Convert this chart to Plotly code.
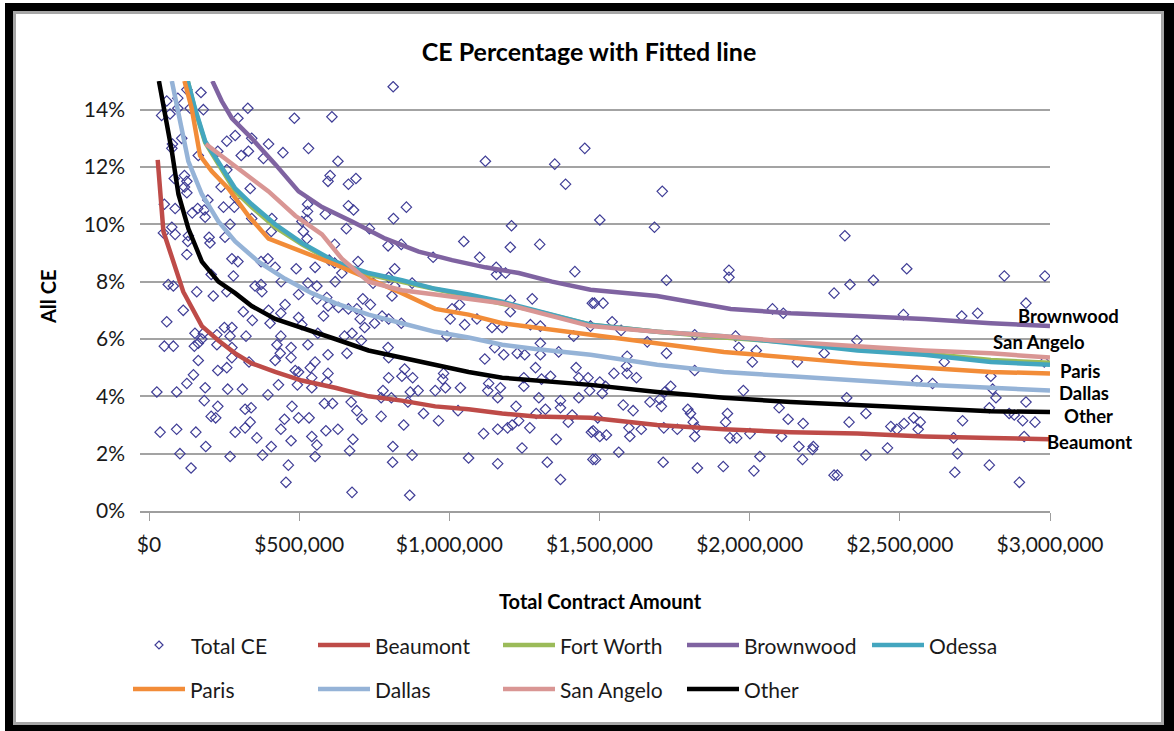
import plotly.graph_objects as go

# ---- scatter: total contract amount (thousands of $) vs. CE percentage ----
total_contract_k = [
    813, 59, 96, 173, 126, 42, 70, 96, 181, 137, 329, 296, 484, 609, 109, 78, 76, 259, 287, 342,
    398, 307, 331, 381, 446, 531, 629, 229, 164, 1120, 1351, 1451, 1387, 118, 84, 126, 118, 126, 259, 240,
    337, 603, 596, 664, 689, 51, 87, 162, 184, 144, 187, 196, 248, 284, 287, 528, 528, 664, 681, 857,
    587, 814, 526, 509, 409, 76, 48, 87, 131, 270, 342, 407, 514, 526, 657, 734, 1207, 200, 253, 203,
    129, 126, 618, 796, 840, 1048, 1203, 1301, 946, 1101, 276, 296, 373, 396, 420, 490, 553, 600, 618, 642,
    696, 818, 1156, 1157, 1187, 1418, 207, 281, 440, 373, 353, 529, 559, 620, 746, 798, 876, 818, 64, 81,
    159, 259, 214, 376, 498, 114, 59, 314, 344, 251, 276, 398, 439, 453, 403, 498, 509, 559, 592, 596,
    581, 631, 664, 692, 712, 737, 703, 718, 751, 776, 798, 840, 809, 153, 181, 226, 270, 323, 439, 562,
    651, 676, 707, 992, 1003, 1051, 1009, 1034, 1092, 1142, 1176, 1203, 1276, 1203, 1270, 1303, 1414, 1470, 1476, 51,
    81, 151, 164, 164, 176, 226, 276, 276, 259, 229, 148, 126, 92, 26, 187, 262, 311, 333, 396, 420,
    426, 437, 473, 473, 487, 498, 494, 431, 529, 553, 537, 542, 542, 596, 596, 592, 659, 673, 796, 798,
    798, 851, 842, 878, 779, 870, 896, 807, 862, 773, 953, 987, 978, 981, 1037, 1118, 1151, 1181, 1131, 1128,
    1170, 1161, 1226, 1251, 1303, 1303, 1287, 1248, 1248, 1307, 1337, 1298, 1364, 1422, 1431, 1462, 1467, 1431, 1370, 184,
    229, 207, 222, 320, 340, 337, 320, 287, 359, 407, 378, 270, 189, 156, 92, 37, 103, 140, 451, 439,
    476, 498, 533, 473, 542, 559, 553, 464, 456, 589, 629, 584, 611, 692, 709, 773, 679, 668, 812, 811,
    876, 848, 914, 964, 1029, 676, 868, 1064, 1114, 1161, 1194, 1209, 1231, 1222, 1268, 1242, 1161, 1326, 1356, 1370,
    1396, 1409, 1473, 1478, 1289, 1320, 1370, 2281, 1483, 1512, 2076, 2112, 2920, 2512, 2706, 2759, 1542, 1572, 1817, 1953,
    1964, 2022, 2009, 2357, 2159, 2248, 1659, 1723, 1592, 1590, 1592, 1623, 1548, 1817, 2648, 2981, 2557, 2609, 2803, 2809,
    2820, 2920, 1979, 2323, 1501, 1520, 1509, 1579, 1612, 1668, 1701, 1706, 1717, 1737, 1794, 1803, 1812, 1823, 1817, 1494,
    1479, 1501, 1523, 1598, 1601, 1639, 1714, 1759, 1564, 1487, 1712, 1826, 1912, 2014, 2034, 1926, 1920, 1934, 1957, 2001,
    2098, 2128, 2178, 2106, 2164, 2212, 2209, 2176, 2281, 2292, 2331, 2387, 2387, 2459, 2470, 2490, 2514, 2546, 2568, 2561,
    2679, 2692, 2683, 2709, 2798, 2798, 2864, 2881, 2909, 2950, 2914, 2898, 1709, 1501, 1683, 2317, 1723, 1931, 1931, 2523,
    2848, 2983, 2412, 2334,
]
total_ce_pct = [
    14.8, 14.3, 14.4, 14.6, 14.7, 13.8, 13.85, 14.05, 14.0, 14.05, 14.05, 13.7, 13.7, 13.75, 13.0, 12.8, 12.65, 12.9, 13.1, 13.0,
    12.8, 12.4, 12.55, 12.3, 12.5, 12.65, 12.2, 12.55, 12.4, 12.2, 12.1, 12.65, 11.4, 11.7, 11.6, 11.5, 11.3, 11.1, 11.9, 11.3,
    11.25, 11.7, 11.5, 11.4, 11.6, 10.7, 10.55, 10.55, 10.5, 10.4, 10.25, 10.85, 10.6, 10.6, 10.95, 10.7, 10.45, 10.65, 10.5, 10.6,
    10.35, 10.2, 10.15, 10.1, 10.2, 9.9, 9.7, 9.65, 9.6, 10.0, 10.2, 9.75, 9.75, 9.5, 9.85, 9.85, 9.95, 9.55, 9.55, 9.35,
    9.4, 8.95, 9.3, 9.25, 9.3, 9.4, 9.2, 9.3, 8.85, 8.85, 8.8, 8.7, 8.7, 8.8, 8.5, 8.45, 8.5, 8.75, 8.65, 8.3,
    8.7, 8.45, 8.5, 8.25, 8.3, 8.35, 8.25, 8.2, 8.0, 7.9, 7.85, 7.95, 7.85, 8.0, 7.95, 8.15, 7.95, 7.85, 7.9, 7.85,
    7.65, 7.65, 7.5, 7.65, 7.55, 7.0, 6.6, 6.95, 6.65, 6.4, 6.4, 7.0, 6.9, 7.2, 6.55, 6.75, 6.5, 7.4, 7.45, 7.15,
    6.8, 7.1, 7.05, 7.05, 7.4, 7.2, 6.7, 6.4, 6.55, 6.8, 6.7, 6.55, 7.5, 6.2, 6.2, 6.15, 6.1, 6.1, 6.1, 6.2,
    6.1, 6.2, 5.95, 6.1, 6.7, 6.5, 7.05, 7.2, 6.7, 6.4, 6.4, 7.35, 7.4, 6.95, 6.5, 6.45, 6.1, 6.45, 7.25, 5.75,
    5.75, 5.75, 5.85, 5.25, 6.0, 5.8, 5.7, 5.35, 5.0, 4.9, 4.75, 4.45, 4.15, 4.15, 4.3, 4.25, 4.25, 5.2, 4.05, 5.25,
    5.8, 5.5, 5.7, 5.35, 4.9, 4.85, 4.4, 4.4, 5.8, 5.2, 5.0, 4.65, 4.3, 5.45, 4.8, 4.5, 5.5, 3.8, 5.7, 5.35,
    4.65, 4.95, 4.7, 4.65, 4.2, 4.15, 4.2, 3.95, 3.8, 3.95, 4.2, 4.3, 4.6, 4.8, 4.3, 5.3, 5.7, 5.45, 4.45, 4.2,
    4.3, 3.95, 5.5, 5.45, 5.85, 5.45, 5.0, 4.65, 4.35, 4.6, 4.7, 3.95, 5.55, 5.0, 4.65, 4.65, 4.2, 3.95, 3.85, 3.85,
    3.65, 3.3, 3.25, 3.55, 3.6, 3.1, 2.9, 2.75, 2.55, 2.25, 1.95, 1.9, 2.25, 2.75, 2.85, 2.75, 2.0, 1.5, 3.2, 2.85,
    3.65, 3.25, 3.25, 2.45, 2.6, 2.3, 1.9, 1.6, 1.0, 2.8, 2.85, 3.75, 3.75, 3.5, 3.2, 3.3, 2.5, 2.1, 2.25, 1.7,
    1.95, 3.0, 3.4, 3.15, 3.5, 0.65, 0.55, 1.85, 2.7, 2.85, 2.9, 3.0, 3.15, 3.65, 2.9, 2.2, 1.65, 1.7, 2.5, 1.1,
    3.1, 3.35, 2.75, 1.8, 3.4, 3.55, 3.6, 7.6, 7.25, 7.25, 7.05, 6.9, 7.25, 6.85, 6.8, 6.9, 6.6, 6.3, 6.15, 6.1,
    5.7, 5.6, 5.2, 5.95, 5.2, 5.5, 5.9, 5.5, 5.4, 5.05, 4.8, 4.65, 4.8, 4.9, 5.2, 5.2, 4.55, 4.45, 4.7, 4.25,
    3.95, 3.8, 4.2, 3.95, 4.5, 4.35, 4.1, 3.7, 3.5, 3.8, 3.9, 3.65, 4.15, 4.35, 3.55, 3.4, 3.1, 2.9, 2.6, 3.25,
    2.8, 2.6, 2.65, 2.9, 2.6, 2.85, 2.9, 2.85, 2.05, 1.8, 1.7, 1.5, 1.55, 1.4, 1.9, 3.4, 3.1, 2.55, 2.55, 2.7,
    3.6, 3.2, 3.05, 2.6, 2.25, 2.25, 2.15, 1.8, 1.25, 1.25, 3.1, 3.4, 1.95, 2.2, 2.95, 2.85, 3.05, 3.25, 3.1, 2.85,
    2.55, 2.0, 1.35, 3.15, 3.6, 1.6, 3.4, 3.35, 3.15, 3.1, 2.6, 1.0, 11.15, 10.15, 9.9, 9.6, 8.05, 8.4, 8.15, 8.45,
    8.2, 8.2, 8.05, 7.9,
]

# ---- fitted lines per district (amount in thousands of $, CE in %) ----
beaumont_k = [29, 48, 114, 176, 231, 287, 342, 420, 509, 620, 731, 842, 953, 1064, 1176, 1287, 1470, 1692, 1914, 2137, 2359, 2581, 2803, 3000]
beaumont_pct = [12.25, 9.75, 7.65, 6.45, 5.95, 5.5, 5.15, 4.85, 4.55, 4.3, 4.0, 3.85, 3.65, 3.55, 3.4, 3.3, 3.25, 3.0, 2.85, 2.75, 2.7, 2.6, 2.55, 2.5]

odessa_k = [129, 153, 187, 231, 287, 342, 420, 509, 620, 731, 842, 953, 1064, 1176, 1287, 1470, 1692, 1914, 2137, 2359, 2581, 2803, 3000]
odessa_pct = [15.0, 14.05, 12.9, 12.2, 11.25, 10.7, 10.0, 9.35, 8.7, 8.3, 8.05, 7.75, 7.55, 7.3, 7.0, 6.5, 6.25, 6.1, 5.85, 5.6, 5.45, 5.2, 5.1]

fort_worth_k = [129, 153, 187, 231, 287, 342, 420, 509, 620, 731, 842, 953, 1064, 1176, 1287, 1470, 1692, 1914, 2137, 2359, 2581, 2803, 3000]
fort_worth_pct = [15.0, 14.0, 12.85, 12.1, 11.15, 10.6, 9.9, 9.3, 8.65, 8.25, 8.0, 7.72, 7.5, 7.25, 6.98, 6.5, 6.25, 6.05, 5.88, 5.65, 5.5, 5.27, 5.17]

brownwood_k = [211, 242, 276, 342, 420, 498, 576, 676, 787, 898, 1009, 1120, 1231, 1342, 1470, 1692, 1937, 2137, 2359, 2581, 2803, 3000]
brownwood_pct = [15.0, 14.3, 13.7, 13.0, 12.1, 11.15, 10.6, 10.1, 9.5, 9.05, 8.75, 8.5, 8.3, 8.0, 7.72, 7.5, 7.05, 6.9, 6.8, 6.7, 6.55, 6.45]

paris_k = [118, 142, 170, 209, 264, 331, 398, 509, 620, 731, 842, 953, 1064, 1176, 1287, 1470, 1692, 1914, 2137, 2359, 2581, 2803, 3000]
paris_pct = [15.0, 14.05, 12.4, 11.85, 11.25, 10.3, 9.5, 9.05, 8.6, 8.1, 7.6, 7.05, 6.85, 6.55, 6.4, 6.15, 5.85, 5.55, 5.35, 5.15, 5.0, 4.85, 4.8]

dallas_k = [76, 98, 131, 176, 231, 287, 364, 453, 542, 620, 731, 842, 953, 1064, 1176, 1287, 1470, 1692, 1914, 2137, 2359, 2581, 2803, 3000]
dallas_pct = [15.0, 13.8, 12.2, 11.05, 10.1, 9.4, 8.7, 8.1, 7.6, 7.25, 6.85, 6.55, 6.25, 6.05, 5.8, 5.65, 5.45, 5.1, 4.85, 4.7, 4.55, 4.4, 4.3, 4.2]

san_angelo_k = [189, 242, 309, 398, 487, 576, 642, 731, 842, 953, 1176, 1470, 1692, 1914, 2137, 2359, 2581, 2803, 3000]
san_angelo_pct = [12.8, 12.4, 11.85, 11.15, 10.3, 9.65, 8.8, 8.0, 7.7, 7.55, 7.25, 6.45, 6.25, 6.1, 5.9, 5.75, 5.6, 5.5, 5.35]

other_k = [33, 76, 98, 131, 176, 231, 287, 342, 420, 509, 620, 731, 842, 953, 1064, 1176, 1287, 1470, 1692, 1914, 2137, 2359, 2581, 2803, 3000]
other_pct = [15.0, 12.55, 11.05, 9.85, 8.7, 8.0, 7.6, 7.15, 6.7, 6.4, 6.0, 5.6, 5.35, 5.1, 4.85, 4.65, 4.55, 4.4, 4.15, 3.95, 3.8, 3.7, 3.6, 3.48, 3.45]

districts = [
    ("Beaumont", beaumont_k, beaumont_pct, "#BE4B48"),
    ("Fort Worth", fort_worth_k, fort_worth_pct, "#9BBB59"),
    ("Brownwood", brownwood_k, brownwood_pct, "#7F63A1"),
    ("Odessa", odessa_k, odessa_pct, "#43A6BF"),
    ("Paris", paris_k, paris_pct, "#F28C38"),
    ("Dallas", dallas_k, dallas_pct, "#95B3D7"),
    ("San Angelo", san_angelo_k, san_angelo_pct, "#D99694"),
    ("Other", other_k, other_pct, "#000000"),
]

# end-of-line label text and its placement (x in thousands of $, y in %)
end_labels = [
    ("Brownwood", 3060, 6.8),
    ("San Angelo", 2963, 5.88),
    ("Paris", 3100, 4.9),
    ("Dallas", 3112, 4.1),
    ("Other", 3127, 3.32),
    ("Beaumont", 3133, 2.42),
]

x_ticks_k = [0, 500, 1000, 1500, 2000, 2500, 3000]
y_ticks = [0, 2, 4, 6, 8, 10, 12, 14]

FONT = "Lato, 'Open Sans', sans-serif"
W, H = 1174, 731
L, R, T, B = 140, 1050, 81, 511  # plot area edges in pixels
X_MIN, X_MAX, Y_MIN, Y_MAX = -30000, 3000000, 0, 15
MARKER = "#3F3D96"


def px(x):
    return (x - L) / (R - L)


def py(y):
    return (B - y) / (B - T)


def data_to_paper(xd, yd):
    return (xd - X_MIN) / (X_MAX - X_MIN), (yd - Y_MIN) / (Y_MAX - Y_MIN)


fig = go.Figure()

fig.add_trace(go.Scatter(
    x=[v * 1000 for v in total_contract_k], y=total_ce_pct, mode="markers", name="Total CE",
    marker=dict(symbol="diamond-open", size=8, color=MARKER, line=dict(width=1.2, color=MARKER)),
    showlegend=False,
))

for name, xs, ys, color in districts:
    fig.add_trace(go.Scatter(
        x=[v * 1000 for v in xs], y=ys, mode="lines", name=name,
        line=dict(color=color, width=4.5),
        showlegend=False,
    ))

shapes = []
annotations = []

# outer frame: black band with a thin grey inner border
shapes.append(dict(type="rect", xref="paper", yref="paper", layer="below",
                   x0=px(5), x1=px(1176), y0=py(3), y1=py(733),
                   fillcolor="#000000", line=dict(width=0)))
shapes.append(dict(type="rect", xref="paper", yref="paper", layer="below",
                   x0=px(14.5), x1=px(1162.5), y0=py(12.5), y1=py(723.5),
                   fillcolor="#FFFFFF", line=dict(width=3, color="#A6A6A6")))

for text, xk, yv in end_labels:
    ax, ay = data_to_paper(xk * 1000, yv)
    annotations.append(dict(x=ax, y=ay, xref="paper", yref="paper", text=f"<b>{text}</b>",
                            showarrow=False, xanchor="center", yanchor="middle",
                            borderpad=0,
                            font=dict(family=FONT, size=18.5, color="#000000")))

# axis titles
annotations.append(dict(x=px(600), y=py(601), xref="paper", yref="paper",
                        text="<b>Total Contract Amount</b>", showarrow=False,
                        xanchor="center", yanchor="middle",
                        font=dict(family=FONT, size=20, color="#000000")))
annotations.append(dict(x=px(48), y=py(297), xref="paper", yref="paper",
                        text="<b>All CE</b>", showarrow=False, textangle=-90,
                        xanchor="center", yanchor="middle",
                        font=dict(family=FONT, size=20, color="#000000")))

# legend, two rows of five columns
legend_rows = [
    [("Total CE", None), ("Beaumont", "#BE4B48"), ("Fort Worth", "#9BBB59"),
     ("Brownwood", "#7F63A1"), ("Odessa", "#43A6BF")],
    [("Paris", "#F28C38"), ("Dallas", "#95B3D7"), ("San Angelo", "#D99694"),
     ("Other", "#000000")],
]
col_x = [133, 318, 503, 687, 872]
row_y = [645, 689]
for r, row in enumerate(legend_rows):
    yy = row_y[r]
    for c, (label, color) in enumerate(row):
        x0 = col_x[c]
        if color is None:
            cx = x0 + 26
            shapes.append(dict(type="path", xref="paper", yref="paper",
                               path=f"M{px(cx)},{py(yy - 4)} L{px(cx + 4)},{py(yy)} "
                                    f"L{px(cx)},{py(yy + 4)} L{px(cx - 4)},{py(yy)} Z",
                               line=dict(color=MARKER, width=1.2)))
            tx = x0 + 56
        else:
            shapes.append(dict(type="line", xref="paper", yref="paper",
                               x0=px(x0), x1=px(x0 + 52), y0=py(yy), y1=py(yy),
                               line=dict(color=color, width=4.5)))
            tx = x0 + 55
        annotations.append(dict(x=px(tx), y=py(yy), xref="paper", yref="paper", text=label,
                                showarrow=False, xanchor="left", yanchor="middle",
                                font=dict(family=FONT, size=21, color="#1A1A1A")))

fig.update_layout(
    width=W, height=H, autosize=False,
    margin=dict(l=L, r=W - R, t=T, b=H - B, pad=0),
    paper_bgcolor="#FFFFFF", plot_bgcolor="rgba(0,0,0,0)",
    font=dict(family=FONT, size=21, color="#1A1A1A"),
    title=dict(text="<b>CE Percentage with Fitted line</b>", xref="container", yref="container",
               x=589 / W, y=1 - 52 / H, xanchor="center", yanchor="middle",
               font=dict(family=FONT, size=25, color="#000000")),
    shapes=shapes, annotations=annotations, showlegend=False,
)

fig.update_xaxes(
    range=[X_MIN, X_MAX], tickvals=[v * 1000 for v in x_ticks_k],
    ticktext=[f"${v * 1000:,}" for v in x_ticks_k],
    ticks="outside", ticklen=8, tickwidth=1.3,
    tickcolor="#9E9E9E", showline=True, linecolor="#9E9E9E", linewidth=1.5,
    showgrid=False, zeroline=False, ticklabelstandoff=6,
    tickfont=dict(family=FONT, size=21, color="#1A1A1A"),
)
fig.update_yaxes(
    range=[Y_MIN, Y_MAX], tickvals=y_ticks, ticktext=[f"{v}%" for v in y_ticks],
    showgrid=True, gridcolor="#A3A3A3", gridwidth=1.5, zeroline=False, showline=False,
    ticks="", ticklabelstandoff=14,
    tickfont=dict(family=FONT, size=21, color="#1A1A1A"),
)

fig.write_html("out.html")
